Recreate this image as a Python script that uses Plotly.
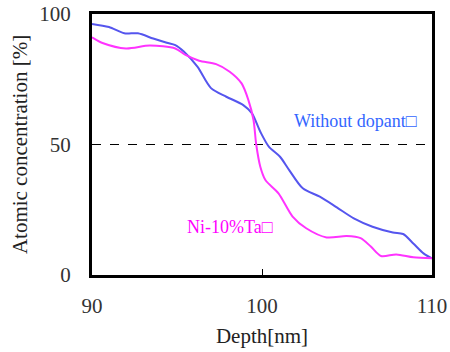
import plotly.graph_objects as go

depth_blue = [90.0, 91.0, 91.9, 92.7, 93.6, 94.4, 94.9, 95.4, 96.2, 97.0, 97.9, 98.9, 99.4, 99.9, 100.4, 101.06, 101.6, 102.4, 103.4, 104.4, 105.4, 106.5, 107.7, 108.3, 108.9, 109.5, 110.0]
conc_blue = [96.2, 95.0, 92.6, 92.6, 90.6, 89.0, 88.1, 85.6, 79.8, 71.6, 68.3, 65.1, 62.0, 54.9, 49.2, 45.3, 40.2, 33.2, 30.0, 25.9, 21.7, 18.5, 16.3, 15.7, 12.1, 8.3, 6.4]

depth_mag = [90.0, 90.66, 92.0, 93.4, 94.9, 95.5, 96.3, 97.3, 98.1, 98.8, 99.2, 99.5, 99.66, 99.9, 100.2, 100.97, 101.8, 102.6, 103.8, 104.98, 105.8, 106.4, 107.0, 107.9, 108.9, 110.0]
conc_mag = [91.1, 88.8, 86.8, 87.9, 86.8, 84.3, 82.1, 80.8, 77.9, 73.4, 67.0, 59.4, 50.0, 41.5, 36.4, 31.3, 22.4, 17.9, 14.4, 14.9, 14.1, 10.9, 7.3, 7.9, 6.8, 6.4]

ref_depth = [90, 110]
ref_level = [50, 50]

x_ticks = [90, 100, 110]
y_ticks = [0, 50, 100]

serif = "Liberation Serif"

fig = go.Figure()
fig.add_trace(go.Scatter(x=ref_depth, y=ref_level, mode="lines",
                         line=dict(color="black", width=1, dash="dash"), showlegend=False))
fig.add_trace(go.Scatter(x=depth_blue, y=conc_blue, mode="lines",
                         line=dict(color="#5555ee", width=2, shape="spline", smoothing=0.8), showlegend=False))
fig.add_trace(go.Scatter(x=depth_mag, y=conc_mag, mode="lines",
                         line=dict(color="#ff33ff", width=2, shape="spline", smoothing=0.8), showlegend=False))

fig.add_annotation(x=109.24, y=59.1, xref="x", yref="y", text="Without dopant□", showarrow=False,
                   xanchor="right", font=dict(family=serif, size=18, color="#3366ff"))
fig.add_annotation(x=100.75, y=18.5, xref="x", yref="y", text="Ni-10%Ta□", showarrow=False,
                   xanchor="right", font=dict(family=serif, size=18, color="#ff00ff"))

fig.update_layout(
    width=450, height=352,
    margin=dict(l=92, r=18, t=14, b=77),
    paper_bgcolor="white", plot_bgcolor="white",
    xaxis=dict(range=[90, 110], tickvals=x_ticks, ticks="inside", ticklen=6, tickwidth=1, tickcolor="black",
               showgrid=False, zeroline=False, showline=True, linecolor="black", linewidth=3, mirror=True,
               automargin=False,
               ticklabelstandoff=10, tickfont=dict(family=serif, size=21, color="#333333"),
               title=dict(text="Depth[nm]", font=dict(family=serif, size=21, color="#222222"), standoff=12)),
    yaxis=dict(range=[0, 100], tickvals=y_ticks, ticks="inside", ticklen=6, tickwidth=1, tickcolor="black",
               showgrid=False, zeroline=False, showline=True, linecolor="black", linewidth=3, mirror=True,
               automargin=False,
               ticklabelstandoff=14, tickfont=dict(family=serif, size=21, color="#333333"),
               title=dict(text="Atomic concentration [%]", font=dict(family=serif, size=21, color="#222222"), standoff=6)),
)

fig.write_html("out.html")
